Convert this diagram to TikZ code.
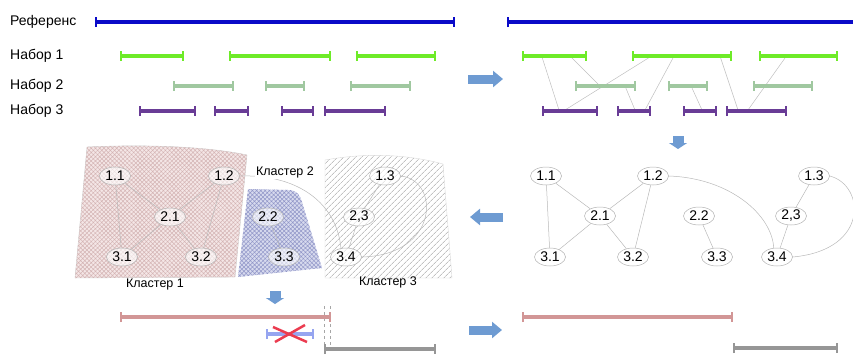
\documentclass[tikz,border=0pt]{standalone}
\usepackage{fontspec}
\setmainfont{Liberation Sans}
\usetikzlibrary{arrows.meta,shapes.geometric,patterns,patterns.meta}
\definecolor{cblue}{RGB}{10,10,200}
\definecolor{cgreen}{RGB}{110,235,40}
\definecolor{clgreen}{RGB}{160,200,160}
\definecolor{cpurple}{RGB}{105,60,150}
\definecolor{cpink}{RGB}{210,150,150}
\definecolor{clblue}{RGB}{150,165,240}
\definecolor{cred}{RGB}{235,60,80}
\definecolor{cgray}{RGB}{150,150,150}
\definecolor{carrow}{RGB}{110,155,210}
\definecolor{cafill}{RGB}{244,230,230}
\definecolor{capat}{RGB}{212,180,180}
\definecolor{cbfill}{RGB}{215,218,238}
\definecolor{cbpat}{RGB}{145,150,200}
\begin{document}
\begin{tikzpicture}[x=1pt,y=-1pt,
  seg/.style={line width=3.5pt,{Bar[width=10pt,line width=2pt]}-{Bar[width=10pt,line width=2pt]}},
  link/.style={gray!50,line width=0.5pt},
  gnode/.style={ellipse,draw=gray!60,line width=0.5pt,fill=white,minimum width=31pt,minimum height=18pt,inner sep=0pt,font=\fontsize{14}{16}\selectfont},
  cnode/.style={gnode,fill opacity=0.6,text opacity=1},
  edge/.style={gray!55,line width=0.5pt},
  lbl/.style={font=\fontsize{14}{16}\selectfont,inner sep=0pt,anchor=west},
  clbl/.style={font=\fontsize{12.5}{14}\selectfont,inner sep=1pt},
  fatarr/.style={carrow,line width=9pt,-{Triangle[width=16pt,length=10pt]}},
  fatdown/.style={carrow,line width=11pt,-{Triangle[width=18pt,length=6pt]}}]
\useasboundingbox (0,0) rectangle (853,354);

% ---------- top left: sets ----------
\node[lbl] (lref) at (10,22) {Референс};
\node[lbl] (l1) at (10,56) {Набор 1};
\node[lbl] (l2) at (10,86) {Набор 2};
\node[lbl] (l3) at (10,111) {Набор 3};
\draw[seg,cblue] (95,22) -- (455,22);
\draw[seg,cgreen] (120,56) -- (184,56);
\draw[seg,cgreen] (229,56) -- (331,56);
\draw[seg,cgreen] (356,56) -- (436,56);
\draw[seg,clgreen] (173,86) -- (234,86);
\draw[seg,clgreen] (265,86) -- (305,86);
\draw[seg,clgreen] (350,86) -- (411,86);
\draw[seg,cpurple] (139,111) -- (196,111);
\draw[seg,cpurple] (214,111) -- (249,111);
\draw[seg,cpurple] (281,111) -- (314,111);
\draw[seg,cpurple] (324,111) -- (386,111);

% ---------- top right: sets with links ----------
\draw[link] (542,57) -- (559,110);
\draw[link] (572,58) -- (600,86);
\draw[link] (625,86) -- (635,110);
\draw[link] (650,57) -- (565,110);
\draw[link] (673,58) -- (645,110);
\draw[link] (692,88) -- (702,110);
\draw[link] (720,56) -- (738,110);
\draw[link] (785,58) -- (748,110);
\draw[line width=3.5pt,cblue,{Bar[width=10pt,line width=2pt]}-] (507,22) -- (856,22);
\draw[seg,cgreen] (522,56) -- (587,56);
\draw[seg,cgreen] (632,56) -- (732,56);
\draw[seg,cgreen] (759,56) -- (838,56);
\draw[seg,clgreen] (575,86) -- (636,86);
\draw[seg,clgreen] (668,86) -- (708,86);
\draw[seg,clgreen] (753,86) -- (813,86);
\draw[seg,cpurple] (542,111) -- (598,111);
\draw[seg,cpurple] (617,111) -- (651,111);
\draw[seg,cpurple] (683,111) -- (717,111);
\draw[seg,cpurple] (726,111) -- (787,111);

% ---------- arrows ----------
\draw[fatarr] (468,79) -- (503,79);
\draw[fatdown] (678,136) -- (678,149);
\draw[fatarr] (503,217) -- (470,217);
\draw[fatdown] (275,291) -- (275,304);
\draw[fatarr] (469,330) -- (502,330);

% ---------- graph (middle right) ----------
\node[gnode] (g11) at (546,176) {1.1};
\node[gnode] (g12) at (653,176) {1.2};
\node[gnode] (g13) at (814,176) {1.3};
\node[gnode] (g21) at (600,216) {2.1};
\node[gnode] (g22) at (699,216) {2.2};
\node[gnode] (g23) at (791,216) {2,3};
\node[gnode] (g31) at (550,257) {3.1};
\node[gnode] (g32) at (633,257) {3.2};
\node[gnode] (g33) at (717,257) {3.3};
\node[gnode] (g34) at (777,257) {3.4};
\draw[edge] (g11) -- (g31);
\draw[edge] (g11) -- (g21);
\draw[edge] (g12) -- (g21);
\draw[edge] (g12) -- (g32);
\draw[edge] (g21) -- (g31);
\draw[edge] (g21) -- (g32);
\draw[edge] (g22) -- (g33);
\draw[edge] (g13) -- (g23);
\draw[edge] (g23) -- (g34);
\draw[edge] (g12.east) .. controls (730,178) and (772,215) .. (g34.110);
\draw[edge] (g13.east) .. controls (865,185) and (870,250) .. (g34.east);

% ---------- clusters (middle left) ----------
\path[fill=cafill,draw=gray!40,line width=0.4pt] (87,147) .. controls (150,144) and (210,147) .. (247,155) -- (235,277) -- (75,278) -- cycle;
\path[pattern={Hatch[angle=45,distance=3pt,line width=0.5pt]},pattern color=capat] (87,147) .. controls (150,144) and (210,147) .. (247,155) -- (235,277) -- (75,278) -- cycle;
\path[fill=cbfill] (248,189) -- (288,190) .. controls (298,190) and (300,196) .. (302,202) -- (322,268) -- (238,277) -- cycle;
\path[pattern={Hatch[angle=45,distance=3pt,line width=0.5pt]},pattern color=cbpat] (248,189) -- (288,190) .. controls (298,190) and (300,196) .. (302,202) -- (322,268) -- (238,277) -- cycle;
\path[draw=gray!30,line width=0.4pt,pattern={Lines[angle=45,distance=4pt,line width=0.6pt]},pattern color=gray!75] (325,160) .. controls (370,152) and (410,155) .. (443,164) -- (452,278) -- (325,278) -- cycle;

\node[cnode] (c11) at (115,176) {1.1};
\node[cnode] (c12) at (224,176) {1.2};
\node[cnode] (c21) at (170,217) {2.1};
\node[cnode] (c31) at (122,257) {3.1};
\node[cnode] (c32) at (201,257) {3.2};
\node[cnode] (c22) at (268,217) {2.2};
\node[cnode] (c33) at (284,257) {3.3};
\node[cnode] (c13) at (385,176) {1.3};
\node[cnode] (c23) at (359,217) {2,3};
\node[cnode] (c34) at (346,257) {3.4};
\draw[edge] (c11) -- (c31);
\draw[edge] (c11) -- (c21);
\draw[edge] (c12) -- (c21);
\draw[edge] (c12) -- (c32);
\draw[edge] (c21) -- (c31);
\draw[edge] (c21) -- (c32);
\draw[edge] (c22) -- (c33);
\draw[edge] (c13) -- (c23);
\draw[edge] (c23) -- (c34);
\draw[edge] (c12.east) .. controls (300,174) and (337,205) .. (c34.120);
\draw[edge] (c13.east) .. controls (440,180) and (440,255) .. (c34.east);

\node[clbl,fill=white] (k2) at (285,172) {Кластер 2};
\node[clbl] (k1) at (155,284) {Кластер 1};
\node[clbl] (k3) at (388,282) {Кластер 3};

% ---------- bottom ----------
\draw[gray!70,dashed,line width=0.5pt] (324,306) -- (324,354);
\draw[gray!70,dashed,line width=0.5pt] (330,306) -- (330,345);
\draw[seg,cpink] (120,317) -- (331,317);
\draw[seg,clblue] (266,334) -- (314,334);
\draw[cred,line width=2.5pt] (273,327) -- (307,342);
\draw[cred,line width=2.5pt] (275,342) -- (305,325);
\draw[seg,cgray] (324,349) -- (436,349);
\draw[seg,cpink] (522,317) -- (733,317);
\draw[seg,cgray] (733,348) -- (838,348);
\end{tikzpicture}
\end{document}
